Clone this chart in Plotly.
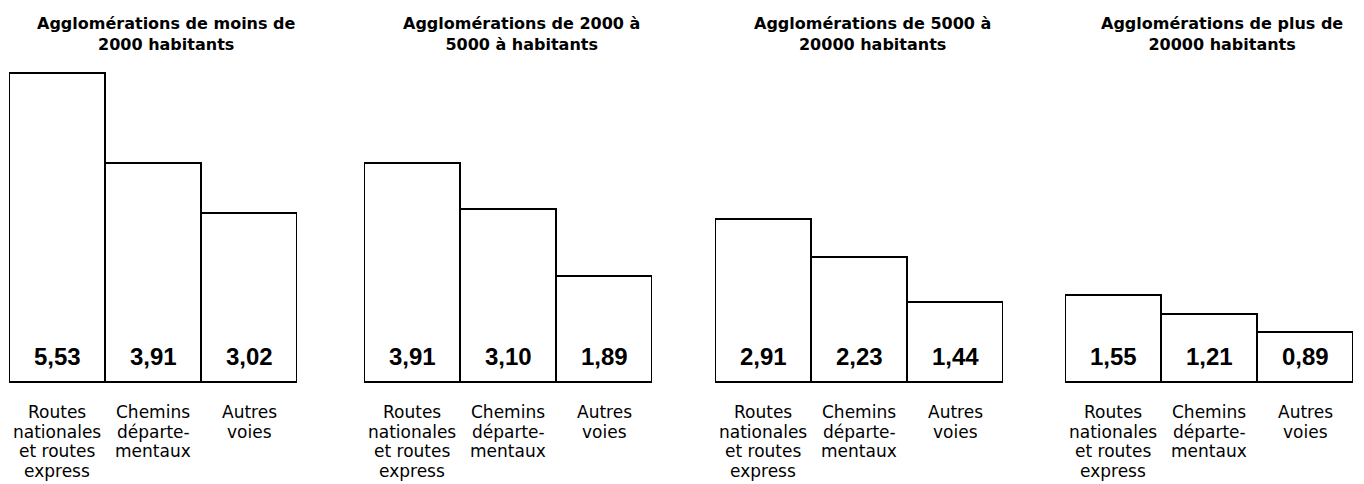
import plotly.graph_objects as go

# Accident rates by road type, for four town-size groups
panel_titles = [
    "Agglomérations de moins de<br>2000 habitants",
    "Agglomérations de 2000 à<br>5000 à habitants",
    "Agglomérations de 5000 à<br>20000 habitants",
    "Agglomérations de plus de<br>20000 habitants",
]
road_types = ["RN", "CD", "AV"]
road_label_lines = [
    ["Routes", "nationales", "et routes", "express"],
    ["Chemins", "départe-", "mentaux"],
    ["Autres", "voies"],
]
values_lt2000 = [5.53, 3.91, 3.02]
values_2000_5000 = [3.91, 3.10, 1.89]
values_5000_20000 = [2.91, 2.23, 1.44]
values_gt20000 = [1.55, 1.21, 0.89]
series = [values_lt2000, values_2000_5000, values_5000_20000, values_gt20000]

W, H = 1364, 484
BASE_PX = 382          # pixel row of the bar baseline
PX_PER_UNIT = 55.9
Y_MIN = -(H - BASE_PX) / PX_PER_UNIT
Y_MAX = BASE_PX / PX_PER_UNIT

panel_px = [(9, 297), (364, 652), (715, 1003), (1065, 1353)]

def fmt(v):
    return f"{v:.2f}".replace(".", ",")

def py(p):
    return 1 - p / H

fig = go.Figure()
annotations = []
for i, vals in enumerate(series):
    n = "" if i == 0 else str(i + 1)
    fig.add_trace(go.Bar(
        x=road_types, y=vals, xaxis=f"x{n}", yaxis=f"y{n}",
        marker=dict(color="white", line=dict(color="black", width=2)),
        showlegend=False, hoverinfo="skip",
    ))
    x0, x1 = panel_px[i]
    fig.layout[f"xaxis{n}"] = dict(domain=[x0 / W, x1 / W], visible=False,
                                   range=[-0.5, 2.5], fixedrange=True)
    fig.layout[f"yaxis{n}"] = dict(range=[Y_MIN, Y_MAX], visible=False,
                                   fixedrange=True, anchor=f"x{n}")
    annotations.append(dict(
        text=panel_titles[i], xref=f"x{n} domain", yref="paper",
        x=0.5, xshift=13, y=py(34), xanchor="center", yanchor="middle",
        showarrow=False,
        font=dict(family="DejaVu Sans", size=16, color="black", weight="bold"),
    ))
    for j, v in enumerate(vals):
        annotations.append(dict(
            text=fmt(v), xref=f"x{n}", yref="paper", x=road_types[j], y=py(356),
            xanchor="center", yanchor="middle", showarrow=False,
            font=dict(family="Liberation Sans", size=24, color="black",
                      weight="bold"),
        ))
        for k, line in enumerate(road_label_lines[j]):
            annotations.append(dict(
                text=line, xref=f"x{n}", yref="paper", x=road_types[j],
                y=py(412 + 19.5 * k), xanchor="center", yanchor="middle",
                showarrow=False,
                font=dict(family="DejaVu Sans", size=17, color="black"),
            ))

fig.update_layout(
    width=W, height=H, margin=dict(l=0, r=0, t=0, b=0),
    paper_bgcolor="white", plot_bgcolor="white",
    bargap=0, annotations=annotations,
)
fig.write_html("out.html")
